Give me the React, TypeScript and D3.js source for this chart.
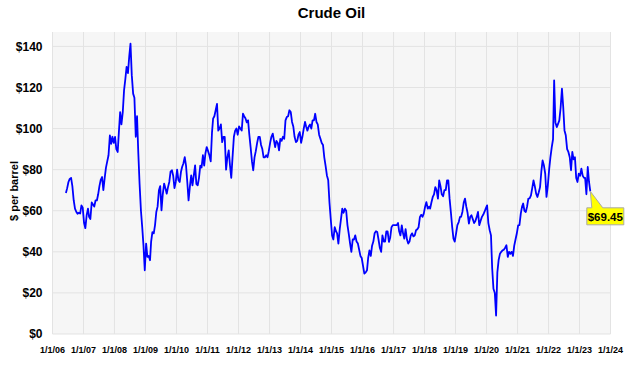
import * as d3 from 'd3'

const width = 640
const height = 372
const margin = { top: 32, right: 29.5, bottom: 38, left: 52.5 }

// semi-monthly WTI prices, first point around 8 Jun 2006, then ~8th and ~23rd of each month
const startMonth = '2006-06'
const prices = [
  68.6, 71, 74, 75.5, 76, 72, 65, 61, 59.5, 58.5, 59, 58.6, 62.6, 61.5,
  54, 51.5, 58, 61, 57, 56, 64, 63, 62, 65, 65, 68, 72, 75, 76.4, 70, 76, 81, 84, 87, 96.7, 92.6, 96, 93,
  95.9, 90, 88.6, 99, 108, 102, 108, 118.6, 124, 130, 127, 135, 141.3, 126, 117, 115, 96, 106, 88, 73, 60, 52, 43, 31,
  44, 37.5, 38, 35.9, 45, 49.6, 49, 53, 59.4, 62, 70, 72, 60.2, 68, 73.2, 71, 68.3, 71.5, 74, 79, 79.7, 77, 71, 74,
  80, 75, 74, 79, 81.3, 83, 86.1, 82, 74, 65, 72, 77.2, 72.4, 77, 82.1, 73, 72.4, 76, 82, 81, 87, 82, 88, 91,
  89, 87, 84, 98, 104.8, 106, 109, 112, 99, 100, 102, 93.4, 96, 96, 80, 86, 89.4, 82, 76, 86, 96, 99, 100, 97,
  101, 100, 99, 107.2, 106, 105, 103, 104, 97, 91, 84, 79.7, 86, 89, 93, 96, 96, 92, 90, 86, 86, 87, 86, 89,
  93, 96, 97.5, 94, 91, 94, 93, 89.4, 95, 94, 96, 95, 104, 105.6, 106, 108.9, 108, 103.2, 101, 96, 93.4, 94, 97, 98.3,
  93, 96, 100, 103.2, 101, 99, 101, 102, 100, 104, 104, 107.2, 103.2, 102, 97, 95.1, 93, 92, 86, 82, 77.2, 75, 64, 56,
  48, 46, 52, 50, 49, 44, 51, 56, 61, 59, 61, 60, 53, 48.9, 44, 40, 46, 46, 48, 45, 44, 41, 38, 37,
  33, 29.4, 30, 31, 37, 40.7, 38, 43, 45, 49, 50, 49.6, 46, 42, 40, 48, 45, 45, 50, 50, 44.8, 47, 52, 53,
  53, 53, 53, 54, 50, 48, 52.9, 49, 46.4, 51, 46, 44, 45, 48, 49, 47.5, 48, 50.5, 51, 52, 57, 58, 57, 58.6,
  62, 64.2, 61, 62, 61, 64, 66.7, 68, 71.5, 70, 65.9, 74.8, 72, 68, 67, 70, 70, 74.8, 74.8, 66, 59, 52, 46.4, 45,
  49, 53, 54.5, 57, 57, 59.4, 64, 65.9, 62, 59, 53.7, 57, 57.8, 56, 54, 55, 57, 59.4, 53, 55, 57, 58, 59.4, 61,
  62.6, 54, 50.5, 48, 32, 22, 20, 9, 30, 36, 39.1, 40, 40.7, 41, 42, 43.2, 37.5, 40, 39, 40, 38, 43, 46, 48.9,
  52.9, 53, 58.6, 62, 63.5, 60, 59.4, 62, 65.9, 66, 67.5, 71, 74.8, 72, 68.3, 66.7, 69, 71.5, 79, 84.5, 82, 78, 66.7, 72,
  80, 86, 91, 94.8, 123.5, 103, 100.7, 102.3, 104, 110, 119.4, 110.5, 99.1, 96.7, 90, 88.6, 86, 79.7, 88.6, 85, 86, 76, 74, 78,
  77, 80.5, 77, 76, 76, 68, 81.3, 74, 69.45,
]

const yearTicks = [2006, 2007, 2008, 2009, 2010, 2011, 2012, 2013, 2014, 2015, 2016, 2017, 2018, 2019, 2020, 2021, 2022, 2023, 2024]
const priceTicks = [0, 20, 40, 60, 80, 100, 120, 140]

const font = '"Liberation Sans", Arial, sans-serif'
const narrow = '"Liberation Sans Narrow", "Arial Narrow", sans-serif'

const start = d3.timeParse('%Y-%m')(startMonth) as Date
const data = prices.map((p, i) => {
  const m = d3.timeMonth.offset(start, Math.floor(i / 2))
  return { date: d3.timeDay.offset(m, i % 2 === 0 ? 7 : 22), price: p }
})

export default function App() {
  const innerRight = width - margin.right
  const innerBottom = height - margin.bottom

  const x = d3
    .scaleTime()
    .domain([new Date(2006, 0, 1), new Date(2024, 0, 1)])
    .range([margin.left, innerRight])
  const y = d3.scaleLinear().domain([0, 147]).range([innerBottom, margin.top])

  const line = d3
    .line<{ date: Date; price: number }>()
    .x((d) => x(d.date))
    .y((d) => y(d.price))

  const fmt = d3.timeFormat('%-m/%-d/%y')

  const last = data[data.length - 1]
  const tx = x(last.date)
  const ty = y(last.price)
  const bx = tx - 3.5
  const by = ty + 16.5
  const bw = 37
  const bh = 17
  const callout = `M${bx},${by} L${bx + 5},${by} L${tx},${ty} L${bx + 16},${by} L${bx + bw},${by} L${bx + bw},${by + bh} L${bx},${by + bh} Z`

  return (
    <svg
      width={width}
      height={height}
      style={{ position: 'absolute', left: 0, top: 0, background: '#fff' }}
    >
      <rect
        x={margin.left}
        y={margin.top}
        width={innerRight - margin.left}
        height={innerBottom - margin.top}
        fill="#f6f6f6"
      />
      {priceTicks.map((t) => (
        <line key={'h' + t} x1={margin.left} x2={innerRight} y1={y(t)} y2={y(t)} stroke="#e3e3e3" />
      ))}
      {yearTicks.map((yr) => {
        const xx = x(new Date(yr, 0, 1))
        return <line key={'v' + yr} x1={xx} x2={xx} y1={margin.top} y2={innerBottom} stroke="#e3e3e3" />
      })}
      {priceTicks.map((t) => (
        <text
          key={'yl' + t}
          x={margin.left - 10}
          y={y(t)}
          dy=".36em"
          textAnchor="end"
          fontFamily={font}
          fontWeight="bold"
          fontSize={12}
        >
          ${t}
        </text>
      ))}
      {yearTicks.map((yr) => {
        const d = new Date(yr, 0, 1)
        return (
          <text
            key={'xl' + yr}
            x={x(d)}
            y={innerBottom + 19}
            textAnchor="middle"
            fontFamily={narrow}
            fontWeight="bold"
            fontSize={9}
          >
            {fmt(d)}
          </text>
        )
      })}
      <text
        transform={`translate(18,${(margin.top + innerBottom) / 2 + 8}) rotate(-90)`}
        textAnchor="middle"
        fontFamily={font}
        fontWeight="bold"
        fontSize={11}
      >
        $ per barrel
      </text>
      <text
        x={(margin.left + innerRight) / 2}
        y={18}
        textAnchor="middle"
        fontFamily={font}
        fontWeight="bold"
        fontSize={15}
      >
        Crude Oil
      </text>
      <path d={line(data) ?? ''} fill="none" stroke="#0000ff" strokeWidth={1.8} strokeLinejoin="round" />
      <path d={callout} fill="#ffff00" stroke="#a8a8a8" strokeWidth={1} />
      <text
        x={bx + bw / 2}
        y={by + 13}
        textAnchor="middle"
        fontFamily={font}
        fontWeight="bold"
        fontSize={11.5}
      >
        ${last.price.toFixed(2)}
      </text>
    </svg>
  )
}
